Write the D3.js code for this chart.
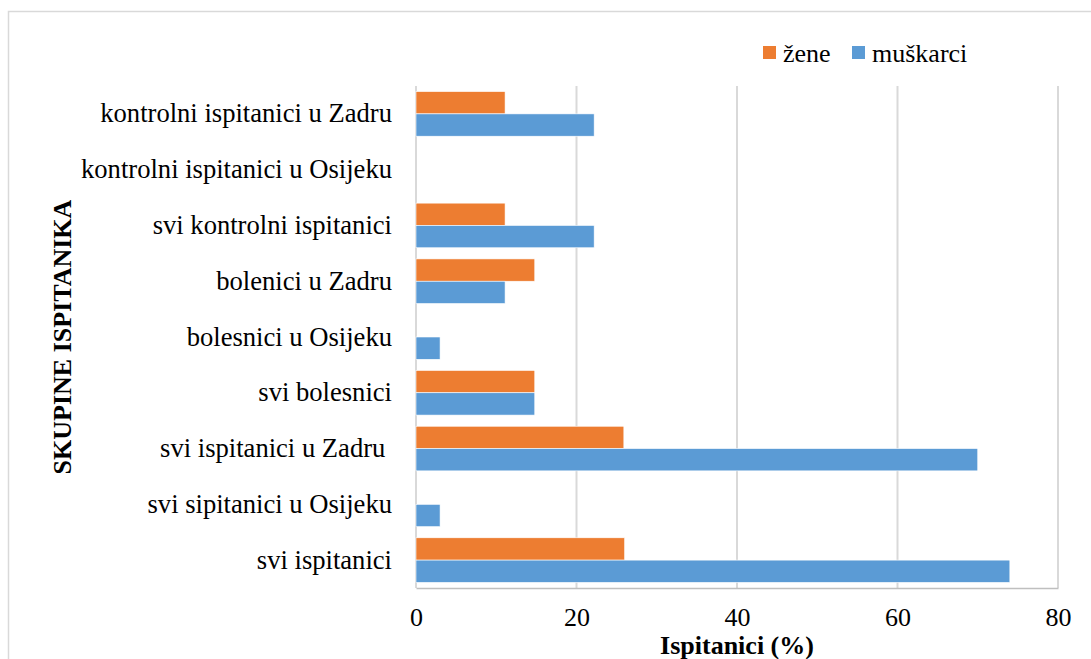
<!DOCTYPE html>
<html>
<head>
<meta charset="utf-8">
<script src="https://cdn.jsdelivr.net/npm/d3@7"></script>
<style>
  body { margin:0; background:#fff; }
  svg { display:block; }
  svg text { font-family:"Liberation Serif","Times New Roman",serif; }
</style>
</head>
<body>
<div id="chart"></div>
<script>
var categories = ["kontrolni ispitanici u Zadru", "kontrolni ispitanici u Osijeku", "svi kontrolni ispitanici",
  "bolenici u Zadru", "bolesnici u Osijeku", "svi bolesnici", "svi ispitanici u Zadru ",
  "svi sipitanici u Osijeku", "svi ispitanici"]
var zene = [11.1, 0, 11.1, 14.8, 0, 14.8, 25.9, 0, 26]
var muskarci = [22.2, 0, 22.2, 11.1, 3, 14.8, 70, 3, 74]
var seriesNames = ["žene", "muškarci"]
var seriesColors = ["#ED7D31", "#5B9BD5"]
var xTicks = [0, 20, 40, 60, 80]

initChart()
function initChart(){
  var width = 1091
  var height = 659
  var margin = {top:86, bottom:71, left:416, right:33}
  var fs = 26

  var svg = d3.select("#chart").append("svg")
      .attr("width", width)
      .attr("height", height)

  // outer chart frame
  svg.append("rect")
    .attr("x", 8.5).attr("y", 11.5)
    .attr("width", 1100).attr("height", 700)
    .attr("fill", "none").attr("stroke", "#d9d9d9").attr("stroke-width", 1.5)

  var x = d3.scaleLinear()
    .domain([0, 80])
    .range([margin.left, width-margin.right])

  var y = d3.scaleBand()
    .domain(categories)
    .range([margin.top, height-margin.bottom])
    .paddingInner(0.2)
    .paddingOuter(0.1)

  var y1 = d3.scaleBand()
    .domain(seriesNames)
    .range([0, y.bandwidth()])

  // gridlines
  svg.append("g").selectAll("line")
    .data(xTicks)
    .enter()
    .append("line")
    .attr("x1", function(d){ return x(d) })
    .attr("x2", function(d){ return x(d) })
    .attr("y1", margin.top)
    .attr("y2", height-margin.bottom)
    .attr("stroke", "#d9d9d9")
    .attr("stroke-width", 2)

  // bars
  var rows = categories.map(function(c, i){
    return [{cat:c, s:seriesNames[0], v:zene[i], col:seriesColors[0]},
            {cat:c, s:seriesNames[1], v:muskarci[i], col:seriesColors[1]}]
  })
  var flat = [].concat.apply([], rows).filter(function(d){ return d.v > 0 })

  svg.append("g").selectAll("rect")
    .data(flat)
    .enter()
    .append("rect")
    .attr("x", x(0))
    .attr("y", function(d){ return y(d.cat) + y1(d.s) })
    .attr("width", function(d){ return x(d.v) - x(0) })
    .attr("height", y1.bandwidth())
    .attr("fill", function(d){ return d.col })
    .attr("stroke", "#fff")
    .attr("stroke-width", 0.6)

  // x axis
  var xAxis = svg.append("g")
    .attr("transform", "translate(0,"+(height-margin.bottom)+")")
    .call(d3.axisBottom(x).tickValues(xTicks).tickSize(0).tickPadding(20))
    .attr("font-family", null).attr("font-size", null)
  xAxis.select(".domain").attr("stroke", "#bfbfbf").attr("stroke-width", 1.5)
  xAxis.selectAll("text")
    .style("font-size", fs+"px")
    .attr("fill", "#000")

  // y axis labels
  var yAxis = svg.append("g")
    .attr("transform", "translate("+margin.left+",0)")
    .call(d3.axisLeft(y).tickSize(0).tickPadding(24))
    .attr("font-family", null).attr("font-size", null)
  yAxis.select(".domain").remove()
  yAxis.selectAll("text")
    .style("font-size", "26.6px")
    .attr("fill", "#000")
    .style("white-space", "pre")

  // axis titles
  svg.append("text")
    .text("Ispitanici (%)")
    .attr("x", (margin.left + width - margin.right)/2)
    .attr("y", 654)
    .attr("text-anchor", "middle")
    .style("font-size", fs+"px")
    .attr("font-weight", 700)

  svg.append("text")
    .text("SKUPINE ISPITANIKA")
    .attr("transform", "translate(71,"+((margin.top + height - margin.bottom)/2)+") rotate(-90)")
    .attr("text-anchor", "middle")
    .style("font-size", fs+"px")
    .attr("font-weight", 700)

  // legend
  var legX = [763, 852]
  var legend = svg.append("g").selectAll("g")
    .data(seriesNames)
    .enter()
    .append("g")
    .attr("transform", function(d, i){ return "translate("+legX[i]+",46)" })
  legend.append("rect")
    .attr("width", 13).attr("height", 13)
    .attr("fill", function(d, i){ return seriesColors[i] })
  legend.append("text")
    .text(function(d){ return d })
    .attr("x", 20)
    .attr("y", 16)
    .style("font-size", fs+"px")
}
</script>
</body>
</html>
